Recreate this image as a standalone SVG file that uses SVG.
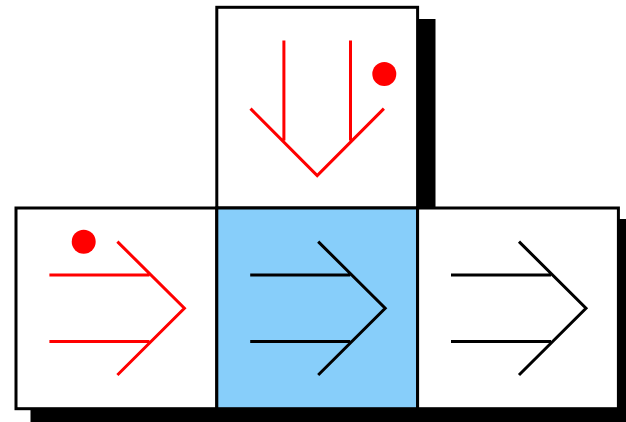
<svg xmlns="http://www.w3.org/2000/svg" xmlns:xlink="http://www.w3.org/1999/xlink" width="626" height="422" viewBox="0 0 626 422">
  <style>
    .shadow { fill: #000; }
    .box { fill: #fff; stroke: #000; stroke-width: 3; }
    .blue { fill: #87cefa; }
    .arr { fill: none; stroke-width: 3; stroke-linecap: butt; stroke-linejoin: miter; }
    .red { stroke: #ff0000; }
    .blk { stroke: #000; }
    .dot { fill: #ff0000; }
  </style>
  <defs>
    <g id="arrow">
      <path d="M -67 -33.3 H 33 M -67 33.3 H 33 M 1 -66.7 L 68 0 L 1 66.7"/>
    </g>
  </defs>
  <g id="shadows">
    <rect class="shadow" x="231.5" y="19" width="204" height="203"/>
    <rect class="shadow" x="30.5" y="219" width="610" height="210"/>
  </g>
  <g id="node-top">
    <rect class="box" x="216.8" y="7.3" width="200.8" height="200.7"/>
    <use xlink:href="#arrow" class="arr red" transform="translate(317.2,107.6) rotate(90)"/>
    <circle class="dot" cx="384.3" cy="74" r="12"/>
  </g>
  <g id="node-left">
    <rect class="box" x="16" y="208" width="200.8" height="200.7"/>
    <use xlink:href="#arrow" class="arr red" transform="translate(116.4,308.3)"/>
    <circle class="dot" cx="83.7" cy="241.7" r="12"/>
  </g>
  <g id="node-middle">
    <rect class="box blue" x="216.8" y="208" width="200.8" height="200.7"/>
    <use xlink:href="#arrow" class="arr blk" transform="translate(317.2,308.3)"/>
  </g>
  <g id="node-right">
    <rect class="box" x="417.6" y="208" width="200.8" height="200.7"/>
    <use xlink:href="#arrow" class="arr blk" transform="translate(518,308.3)"/>
  </g>
  <g id="connectors"/>
</svg>
